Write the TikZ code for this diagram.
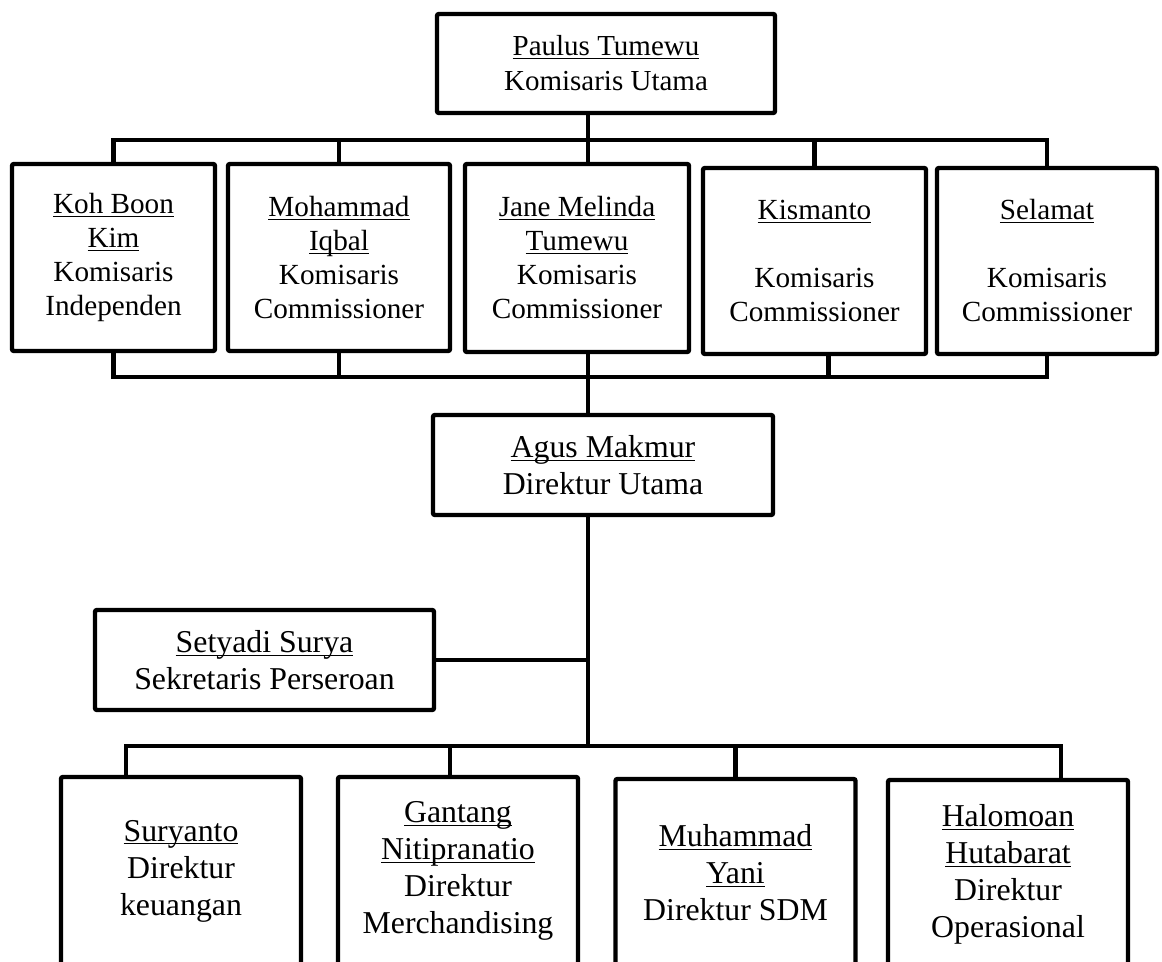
\documentclass[tikz,border=0pt]{standalone}
\usepackage{fontspec}
\setmainfont{Liberation Serif}
\newcommand{\nm}[1]{\underline{\smash{#1}}\vphantom{#1}}

\begin{document}
\begin{tikzpicture}[x=0.5pt, y=-0.5pt,
  box/.style={draw, line width=2.2pt, rounded corners=1pt, align=center, inner sep=0pt,
    font=\fontsize{15.9}{18.5}\selectfont},
  kbox/.style={box, minimum height=93.5pt, font=\fontsize{14.6}{17}\selectfont},
  dbox/.style={box, minimum width=120pt, minimum height=94pt},
  link/.style={line width=2.4pt}]

  \useasboundingbox (0,0) rectangle (1162,962);

  % Define nodes
  \node[box, minimum width=169pt, minimum height=49.5pt, font=\fontsize{14.5}{17.5}\selectfont]
    (paulus) at (606,63.5) {\nm{Paulus Tumewu}\\Komisaris Utama};

  \node[kbox, minimum width=101.5pt] (koh) at (113.5,257.5)
    {\nm{Koh Boon}\\\nm{Kim}\\Komisaris\\Independen};
  \node[kbox, minimum width=111pt] (mohammad) at (339,257.5)
    {\nm{Mohammad}\\\nm{Iqbal}\\Komisaris\\Commissioner};
  \node[kbox, minimum width=112pt, minimum height=94pt] (jane) at (577,258)
    {\nm{Jane Melinda}\\\nm{Tumewu}\\Komisaris\\Commissioner};
  \node[kbox, minimum width=111.5pt, minimum height=93pt] (kismanto) at (814.5,261)
    {\nm{Kismanto}\\[17pt]Komisaris\\Commissioner};
  \node[kbox, minimum width=110pt, minimum height=93pt] (selamat) at (1047,261)
    {\nm{Selamat}\\[17pt]Komisaris\\Commissioner};

  \node[box, minimum width=170pt, minimum height=50pt] (agus) at (603,465)
    {\nm{Agus Makmur}\\Direktur Utama};
  \node[box, minimum width=169.5pt, minimum height=50pt] (setyadi) at (264.5,660)
    {\nm{Setyadi Surya}\\Sekretaris Perseroan};

  \node[dbox] (suryanto) at (181,871) {\nm{Suryanto}\\Direktur\\keuangan};
  \node[dbox] (gantang) at (458,871) {\nm{Gantang}\\\nm{Nitipranatio}\\Direktur\\Merchandising};
  \node[dbox] (muhammad) at (735.5,873) {\nm{Muhammad}\\\nm{Yani}\\Direktur SDM};
  \node[dbox] (halomoan) at (1008,874) {\nm{Halomoan}\\\nm{Hutabarat}\\Direktur\\Operasional};

  \coordinate (trunk) at (588,0);
  \coordinate (bk) at (588,140);
  \coordinate (bb) at (588,377);
  \coordinate (dk) at (588,746);

  % Connect the nodes
  \draw[link] (paulus.south -| trunk) -- (jane.north -| trunk);
  \draw[link] (koh.north) |- (bk) -| (selamat.north);
  \draw[link] (mohammad.north) -- (mohammad.north |- bk);
  \draw[link] (kismanto.north) -- (kismanto.north |- bk);

  \draw[link] (koh.south) |- (bb) -| (selamat.south);
  \draw[link] (mohammad.south) -- (mohammad.south |- bb);
  \draw[link] ([xshift=7pt]kismanto.south) -- ++(0,23);
  \draw[link] (jane.south -| trunk) -- (agus.north -| trunk);

  \draw[link] (agus.south -| trunk) -- (dk);
  \draw[link] (setyadi.east) -- (setyadi.east -| trunk);
  \draw[link] ([xshift=-27.5pt]suryanto.north) |- (dk) -| ([xshift=26.5pt]halomoan.north);
  \draw[link] ([xshift=-4pt]gantang.north) -- ++(0,-31);
  \draw[link] (muhammad.north) -- (muhammad.north |- dk);

\end{tikzpicture}
\end{document}
